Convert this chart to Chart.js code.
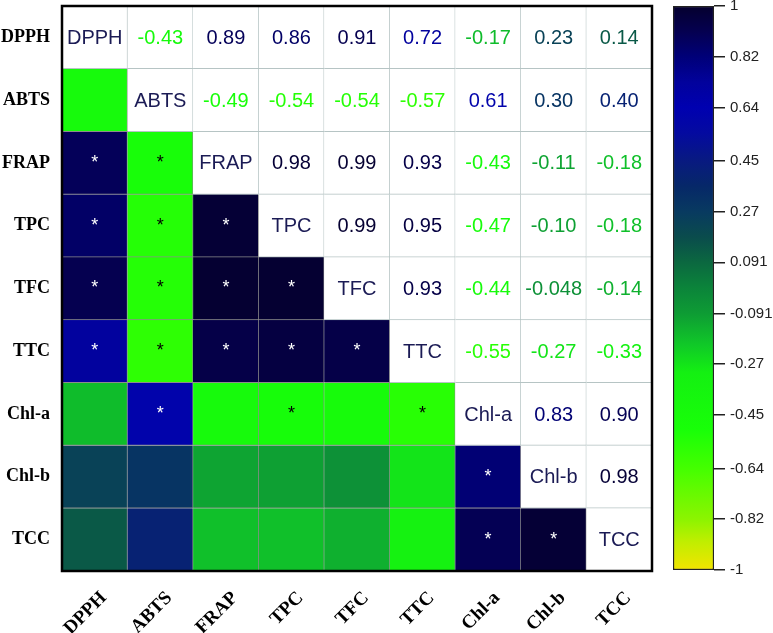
<!DOCTYPE html>
<html><head><meta charset="utf-8">
<script src="https://cdn.jsdelivr.net/npm/chart.js@4.4.1/dist/chart.umd.min.js"></script>
<style>
html,body{margin:0;padding:0;background:#fff;}
#wrap{position:relative;width:773px;height:633px;background:#fff;}
#main{position:absolute;left:0;top:0;}
#bar{position:absolute;left:660px;top:0;}
</style></head><body>
<div id="wrap"><canvas id="main" width="660" height="633"></canvas><canvas id="bar" width="113" height="633"></canvas></div>
<script>
// ---- data ----
const variables = ['DPPH','ABTS','FRAP','TPC','TFC','TTC','Chl-a','Chl-b','TCC'];
const corrDPPH = [1, -0.43, 0.89, 0.86, 0.91, 0.72, -0.17, 0.23, 0.14];
const corrABTS = [-0.43, 1, -0.49, -0.54, -0.54, -0.57, 0.61, 0.30, 0.40];
const corrFRAP = [0.89, -0.49, 1, 0.98, 0.99, 0.93, -0.43, -0.11, -0.18];
const corrTPC  = [0.86, -0.54, 0.98, 1, 0.99, 0.95, -0.47, -0.10, -0.18];
const corrTFC  = [0.91, -0.54, 0.99, 0.99, 1, 0.93, -0.44, -0.048, -0.14];
const corrTTC  = [0.72, -0.57, 0.93, 0.95, 0.93, 1, -0.55, -0.27, -0.33];
const corrChla = [-0.17, 0.61, -0.43, -0.47, -0.44, -0.55, 1, 0.83, 0.90];
const corrChlb = [0.23, 0.30, -0.11, -0.10, -0.048, -0.27, 0.83, 1, 0.98];
const corrTCC  = [0.14, 0.40, -0.18, -0.18, -0.14, -0.33, 0.90, 0.98, 1];
// significance marks (lower triangle, 1 = *)
const sigDPPH = [];
const sigABTS = [0];
const sigFRAP = [1,1];
const sigTPC  = [1,1,1];
const sigTFC  = [1,1,1,1];
const sigTTC  = [1,1,1,1,1];
const sigChla = [0,1,0,1,0,1];
const sigChlb = [0,0,0,0,0,0,1];
const sigTCC  = [0,0,0,0,0,0,1,1];
const colorbarTicks = [1, 0.82, 0.64, 0.45, 0.27, 0.091, -0.091, -0.27, -0.45, -0.64, -0.82, -1];

const corr = [corrDPPH, corrABTS, corrFRAP, corrTPC, corrTFC, corrTTC, corrChla, corrChlb, corrTCC];
const sig = [sigDPPH, sigABTS, sigFRAP, sigTPC, sigTFC, sigTTC, sigChla, sigChlb, sigTCC];

// ---- colour map ----
const cmapStops = [
 [-1, '#f2e400'], [-0.9, '#c0ee00'], [-0.82, '#8cf400'], [-0.64, '#44ff00'], [-0.5, '#18ff08'],
 [-0.3, '#14f012'], [-0.2, '#10c828'], [-0.091, '#0e9c34'], [0, '#0b843a'], [0.091, '#0b6840'],
 [0.18, '#0a4c4c'], [0.27, '#083a60'], [0.36, '#062868'], [0.45, '#081a80'], [0.55, '#040aa0'],
 [0.64, '#0000b0'], [0.73, '#02029c'], [0.82, '#000078'], [0.91, '#050050'], [1, '#05002e']
];
function hex2rgb(h){return [parseInt(h.slice(1,3),16),parseInt(h.slice(3,5),16),parseInt(h.slice(5,7),16)];}
function cmap(v){
  for(let i=0;i<cmapStops.length-1;i++){
    const [a,ca]=cmapStops[i],[b,cb]=cmapStops[i+1];
    if(v>=a && v<=b){
      const t=(v-a)/(b-a), A=hex2rgb(ca), B=hex2rgb(cb);
      return 'rgb('+A.map((x,k)=>Math.round(x+(B[k]-x)*t)).join(',')+')';
    }
  }
  return v<0?cmapStops[0][1]:cmapStops[cmapStops.length-1][1];
}
const n = variables.length;

function zeroPad(scale){scale.paddingTop=0;scale.paddingBottom=0;scale.paddingLeft=0;scale.paddingRight=0;}

const datasets = variables.map((rowName, r) => ({
  label: rowName,
  data: variables.map(() => [n-1-r, n-r]),
  backgroundColor: variables.map((_, c) => c < r ? cmap(corr[r][c]) : '#ffffff'),
  borderColor: variables.map((_, c) => c < r ? '#8c8c8c' : '#b6c4c4'),
  borderWidth: {top:0, left:0, right:1, bottom:1},
  borderSkipped: false
}));

const cellText = {
  id: 'cellText',
  afterDatasetsDraw(chart){
    const ctx = chart.ctx;
    ctx.save();
    ctx.textAlign = 'center'; ctx.textBaseline = 'middle';
    for(let r=0;r<n;r++){
      const meta = chart.getDatasetMeta(r);
      for(let c=0;c<n;c++){
        const el = meta.data[c];
        const cx = el.x, cy = (el.y + el.base)/2;
        if(c===r){
          ctx.font = '20px "Liberation Sans", Arial, sans-serif';
          ctx.fillStyle = '#1b1b55';
          ctx.fillText(variables[r], cx, cy+1);
        } else if(c>r){
          const v = corr[r][c];
          ctx.font = '20px "Liberation Sans", Arial, sans-serif';
          ctx.fillStyle = cmap(v);
          ctx.fillText(v.toPrecision(2), cx, cy+1);
        } else if(sig[r][c]){
          ctx.font = '18px "Liberation Sans", Arial, sans-serif';
          ctx.fillStyle = corr[r][c] > 0 ? '#ffffff' : '#000000';
          ctx.fillText('*', cx, cy);
        }
      }
    }
    const a = chart.chartArea;
    ctx.lineWidth = 2.5; ctx.strokeStyle = '#000';
    ctx.strokeRect(a.left, a.top, a.right-a.left, a.bottom-a.top);
    ctx.restore();
  }
};

new Chart(document.getElementById('main'), {
  type: 'bar',
  data: { labels: variables, datasets },
  options: {
    responsive: false, animation: false,
    datasets: { bar: { grouped: false, categoryPercentage: 1, barPercentage: 1 } },
    layout: { padding: { left: 0, top: 6, right: 8, bottom: 0 } },
    plugins: { legend: { display: false }, tooltip: { enabled: false } },
    scales: {
      x: {
        type: 'category',
        grid: { display: false, drawTicks: false }, border: { display: false },
        ticks: { autoSkip: false, minRotation: 45, maxRotation: 45, labelOffset: 9, padding: 16,
          color: '#000', font: { family: '"Liberation Serif", "Times New Roman", serif', size: 19, weight: 'bold' } },
        afterFit(s){ s.height = 62; zeroPad(s); }
      },
      y: {
        type: 'linear', min: 0, max: n,
        grid: { display: false, drawTicks: false }, border: { display: false },
        afterBuildTicks(s){ s.ticks = variables.map((_, i) => ({ value: n - 0.5 - i })); },
        ticks: { autoSkip: false, padding: 12, color: '#000',
          callback: (v, i) => variables[i],
          font: { family: '"Liberation Serif", "Times New Roman", serif', size: 18, weight: 'bold' } },
        afterFit(s){ s.width = 62; zeroPad(s); }
      }
    }
  },
  plugins: [cellText]
});

// ---- colour bar ----
new Chart(document.getElementById('bar'), {
  type: 'bar',
  data: { labels: [''], datasets: [{
    data: [[-1, 1]],
    backgroundColor(ctx){
      const ch = ctx.chart, a = ch.chartArea;
      if(!a) return '#888';
      const g = ch.ctx.createLinearGradient(0, a.bottom, 0, a.top);
      cmapStops.forEach(([v, col]) => g.addColorStop((v+1)/2, col));
      return g;
    },
    borderColor: '#222', borderWidth: 1.5, borderSkipped: false
  }]},
  options: {
    responsive: false, animation: false,
    datasets: { bar: { categoryPercentage: 1, barPercentage: 1 } },
    layout: { padding: { left: 13, top: 6, right: 0, bottom: 63 } },
    plugins: { legend: { display: false }, tooltip: { enabled: false } },
    scales: {
      x: { display: false },
      y: {
        position: 'right', min: -1, max: 1,
        border: { display: false },
        grid: { drawOnChartArea: false, drawTicks: true, tickLength: 11, color: '#222', lineWidth: 1.5 },
        afterBuildTicks(s){ s.ticks = colorbarTicks.map(v => ({ value: v })); },
        ticks: { autoSkip: false, padding: 5, color: '#222',
          callback: (v, i) => String(colorbarTicks[i]),
          font: { family: '"Liberation Sans", Arial, sans-serif', size: 15 } },
        afterFit(s){ s.width = 59; zeroPad(s); }
      }
    }
  }
});
</script>
</body></html>
